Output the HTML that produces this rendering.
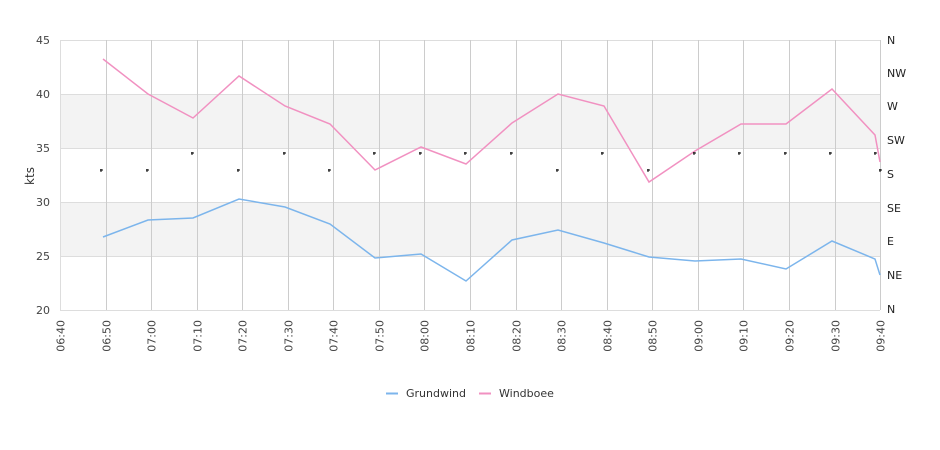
<!DOCTYPE html>
<html><head><meta charset="utf-8"><style>
html,body{margin:0;padding:0;background:#fff;}
svg{display:block;font-family:"DejaVu Sans","Liberation Sans",sans-serif;}
</style></head><body>
<svg width="940" height="450" viewBox="0 0 940 450" xmlns="http://www.w3.org/2000/svg">
<rect x="60" y="94" width="820" height="54" fill="#f3f3f3"/>
<rect x="60" y="202" width="820" height="54" fill="#f3f3f3"/>
<g stroke="#dddddd" stroke-width="1">
<line x1="60" y1="40.5" x2="880" y2="40.5"/>
<line x1="60" y1="94.5" x2="880" y2="94.5"/>
<line x1="60" y1="148.5" x2="880" y2="148.5"/>
<line x1="60" y1="202.5" x2="880" y2="202.5"/>
<line x1="60" y1="256.5" x2="880" y2="256.5"/>
<line x1="60" y1="310.5" x2="880" y2="310.5"/>
<line x1="60.5" y1="40" x2="60.5" y2="310"/>
</g>
<g stroke="#cccccc" stroke-width="1" id="vg"></g>
<g font-size="11" fill="#444" text-anchor="end">
<text x="50" y="44">45</text><text x="50" y="98">40</text><text x="50" y="152">35</text>
<text x="50" y="206">30</text><text x="50" y="260">25</text><text x="50" y="314">20</text>
</g>
<text transform="translate(34,176) rotate(-90)" font-size="12" fill="#333" text-anchor="middle">kts</text>
<g font-size="11" fill="#222">
<text x="887" y="44">N</text><text x="887" y="77">NW</text><text x="887" y="110">W</text>
<text x="887" y="144">SW</text><text x="887" y="178">S</text><text x="887" y="212">SE</text>
<text x="887" y="245">E</text><text x="887" y="279">NE</text><text x="887" y="313">N</text>
</g>
<g id="xl" font-size="11" fill="#444"></g>
<polyline fill="none" stroke="#7cb5ec" stroke-width="1.5" points="103,237 148,220 193,218 239,199 285,207 330,224 375,258 421,254 466,281 512,240 558,230 604,243 649,257 695,261 741,259 786,269 832,241 875,259 880,275"/>
<polyline fill="none" stroke="#f191c1" stroke-width="1.5" points="103,59 148,94 193,118 239,76 285,106 330,124 375,170 421,147 466,164 512,123 558,94 604,106 649,182 695,151 741,124 786,124 832,89 875,135 880,162"/>
<g id="dots" fill="#000"></g>
<line x1="386" y1="393.5" x2="398" y2="393.5" stroke="#7cb5ec" stroke-width="2"/>
<text x="406" y="397" font-size="11" fill="#333">Grundwind</text>
<line x1="479" y1="393.5" x2="491" y2="393.5" stroke="#f191c1" stroke-width="2"/>
<text x="499" y="397" font-size="11" fill="#333">Windboee</text>
<script>
var ns="http://www.w3.org/2000/svg";
var vg=document.getElementById('vg'),xl=document.getElementById('xl'),d=document.getElementById('dots');
var labels=["06:40","06:50","07:00","07:10","07:20","07:30","07:40","07:50","08:00","08:10","08:20","08:30","08:40","08:50","09:00","09:10","09:20","09:30","09:40"];
for(var i=0;i<19;i++){var x=Math.round(60+45.56*i)+0.5;
if(i>0){var l=document.createElementNS(ns,'line');l.setAttribute('x1',x);l.setAttribute('x2',x);l.setAttribute('y1',40);l.setAttribute('y2',310);vg.appendChild(l);}
var t=document.createElementNS(ns,'text');t.setAttribute('transform','translate('+(x+4)+',320) rotate(-90)');t.setAttribute('text-anchor','end');t.textContent=labels[i];xl.appendChild(t);}
var pts=[[101,170],[147,170],[192,153],[238,170],[284,153],[329,170],[374,153],[420,153],[465,153],[511,153],[557,170],[602,153],[648,170],[694,153],[739,153],[785,153],[830,153],[875,153],[880,170]];
pts.forEach(function(p){var a=document.createElementNS(ns,'rect');a.setAttribute('x',p[0]-1);a.setAttribute('y',p[1]-0.5);a.setAttribute('width',3);a.setAttribute('height',1);d.appendChild(a);
var b=document.createElementNS(ns,'rect');b.setAttribute('x',p[0]-0.5);b.setAttribute('y',p[1]-1);b.setAttribute('width',1);b.setAttribute('height',3);d.appendChild(b);});
</script>
</svg>
</body></html>
